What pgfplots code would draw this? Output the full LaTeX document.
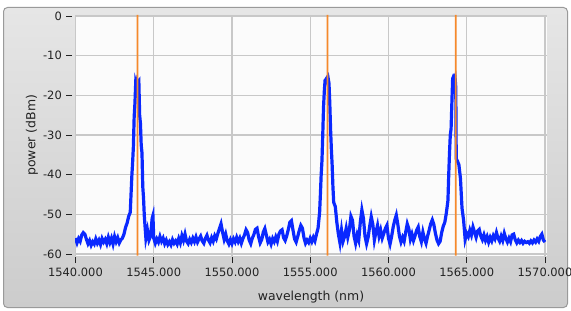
\documentclass[border=0pt]{standalone}
\usepackage{pgfplots}
\pgfplotsset{compat=1.18}
\usepackage{pgfplotstable}
\usepackage{fontspec}
\setmainfont{DejaVu Sans}
\definecolor{panelTop}{HTML}{E6E6E6}
\definecolor{panelBot}{HTML}{CCCCCC}
\definecolor{panelEdge}{HTML}{9A9A9A}
\definecolor{plotbg}{HTML}{FBFBFB}
\definecolor{gridc}{HTML}{C8C8C8}
\definecolor{specblue}{HTML}{0A28FF}
\definecolor{orangeline}{HTML}{F5892B}
\definecolor{txt}{HTML}{222222}

\pgfplotstableread{
x y
1540.0 -56.0
1540.1 -57.2
1540.2 -56.1
1540.3 -56.8
1540.4 -55.2
1540.5 -54.6
1540.6 -55.0
1540.7 -56.3
1540.8 -57.4
1540.9 -56.6
1541.0 -57.8
1541.1 -56.9
1541.2 -57.5
1541.3 -56.2
1541.4 -57.3
1541.5 -56.5
1541.6 -57.6
1541.7 -56.1
1541.8 -57.0
1541.9 -56.3
1542.0 -57.4
1542.1 -55.8
1542.2 -57.1
1542.3 -56.0
1542.4 -57.5
1542.5 -55.6
1542.6 -56.9
1542.7 -55.9
1542.8 -57.2
1542.9 -56.4
1543.0 -56.0
1543.1 -55.0
1543.2 -53.3
1543.3 -52.2
1543.4 -50.5
1543.5 -49.5
1543.55 -45.0
1543.6 -40.5
1543.65 -37.0
1543.7 -33.0
1543.75 -25.5
1543.8 -22.0
1543.85 -16.8
1543.9 -17.5
1543.95 -16.3
1544.0 -16.8
1544.05 -16.5
1544.1 -25.0
1544.15 -27.0
1544.2 -32.5
1544.25 -34.5
1544.3 -43.0
1544.35 -46.0
1544.4 -50.5
1544.5 -56.0
1544.6 -54.0
1544.7 -56.5
1544.8 -55.5
1544.9 -51.0
1544.95 -50.3
1545.0 -56.0
1545.1 -57.3
1545.2 -56.2
1545.3 -57.0
1545.4 -55.6
1545.5 -56.8
1545.6 -56.0
1545.7 -57.4
1545.8 -56.5
1545.9 -57.6
1546.0 -56.9
1546.1 -57.7
1546.2 -56.4
1546.3 -57.3
1546.4 -56.7
1546.5 -57.5
1546.6 -56.1
1546.7 -57.2
1546.8 -55.4
1546.9 -56.6
1547.0 -55.0
1547.1 -56.8
1547.2 -57.4
1547.3 -56.3
1547.4 -57.1
1547.5 -56.0
1547.6 -56.9
1547.7 -55.7
1547.8 -57.0
1547.9 -56.2
1548.0 -55.5
1548.1 -56.7
1548.2 -57.3
1548.3 -56.1
1548.4 -55.3
1548.5 -56.5
1548.6 -57.2
1548.7 -55.9
1548.8 -56.8
1548.9 -55.4
1549.0 -56.2
1549.1 -54.8
1549.2 -53.6
1549.3 -52.4
1549.4 -54.5
1549.5 -56.3
1549.6 -55.0
1549.7 -56.7
1549.8 -57.5
1549.9 -56.4
1550.0 -57.4
1550.1 -56.2
1550.2 -57.0
1550.3 -55.8
1550.4 -56.9
1550.5 -56.0
1550.6 -57.3
1550.7 -56.1
1550.8 -55.2
1550.9 -53.9
1551.0 -54.6
1551.1 -56.5
1551.2 -57.4
1551.3 -56.0
1551.4 -55.1
1551.5 -53.8
1551.6 -53.5
1551.7 -55.6
1551.8 -57.2
1551.9 -56.4
1552.0 -54.5
1552.1 -53.6
1552.2 -55.3
1552.3 -57.0
1552.4 -56.3
1552.5 -57.5
1552.6 -56.1
1552.7 -56.9
1552.8 -55.7
1552.9 -56.8
1553.0 -55.0
1553.1 -54.2
1553.2 -53.9
1553.3 -55.9
1553.4 -56.6
1553.5 -55.4
1553.6 -53.8
1553.7 -52.0
1553.8 -51.6
1553.9 -54.0
1554.0 -56.2
1554.1 -57.0
1554.2 -55.6
1554.3 -54.1
1554.4 -52.8
1554.5 -53.5
1554.6 -55.9
1554.7 -57.3
1554.8 -56.5
1554.9 -57.1
1555.0 -56.0
1555.1 -56.9
1555.2 -55.8
1555.3 -56.7
1555.4 -55.0
1555.5 -53.5
1555.6 -49.5
1555.65 -45.0
1555.7 -40.0
1555.75 -36.5
1555.8 -30.0
1555.85 -23.0
1555.9 -19.0
1555.95 -16.2
1556.0 -16.0
1556.05 -15.7
1556.1 -16.4
1556.15 -15.8
1556.2 -17.0
1556.25 -22.0
1556.3 -28.5
1556.35 -33.5
1556.4 -37.5
1556.45 -43.0
1556.5 -47.0
1556.6 -48.0
1556.7 -52.0
1556.8 -55.0
1556.9 -57.2
1557.0 -54.0
1557.1 -56.8
1557.2 -55.5
1557.3 -53.5
1557.4 -55.8
1557.5 -54.0
1557.6 -50.5
1557.7 -51.5
1557.8 -55.5
1557.9 -57.3
1558.0 -55.2
1558.1 -56.5
1558.2 -52.0
1558.3 -48.9
1558.4 -51.0
1558.5 -55.5
1558.6 -57.4
1558.7 -55.8
1558.8 -53.0
1558.9 -50.6
1559.0 -52.5
1559.1 -56.5
1559.2 -54.5
1559.3 -52.8
1559.4 -55.5
1559.5 -54.0
1559.6 -56.0
1559.7 -54.8
1559.8 -53.6
1559.9 -52.8
1560.0 -56.0
1560.1 -57.5
1560.2 -55.6
1560.3 -53.2
1560.4 -51.5
1560.5 -50.2
1560.6 -52.6
1560.7 -55.5
1560.8 -57.0
1560.9 -55.8
1561.0 -56.8
1561.1 -54.5
1561.2 -52.4
1561.3 -53.6
1561.4 -56.3
1561.5 -55.0
1561.6 -56.6
1561.7 -55.4
1561.8 -54.0
1561.9 -53.2
1562.0 -55.6
1562.1 -56.9
1562.2 -54.5
1562.3 -56.2
1562.4 -57.3
1562.5 -55.5
1562.6 -54.0
1562.7 -52.4
1562.8 -51.4
1562.9 -52.6
1563.0 -54.8
1563.1 -56.5
1563.2 -57.4
1563.3 -56.8
1563.4 -54.6
1563.5 -53.0
1563.6 -52.0
1563.7 -49.6
1563.8 -46.5
1563.85 -40.0
1563.9 -34.5
1563.95 -30.0
1564.0 -28.5
1564.05 -22.0
1564.1 -15.8
1564.15 -15.3
1564.2 -15.6
1564.25 -15.2
1564.3 -18.0
1564.33 -36.0
1564.4 -36.5
1564.5 -37.5
1564.6 -41.0
1564.7 -48.5
1564.8 -51.5
1564.9 -56.3
1565.0 -54.8
1565.1 -55.6
1565.2 -54.0
1565.3 -55.2
1565.4 -53.2
1565.5 -54.5
1565.6 -55.8
1565.7 -54.2
1565.8 -53.8
1565.9 -55.5
1566.0 -56.4
1566.1 -55.2
1566.2 -56.6
1566.3 -55.6
1566.4 -57.0
1566.5 -55.8
1566.6 -56.7
1566.7 -55.4
1566.8 -56.2
1566.9 -54.6
1567.0 -56.0
1567.1 -56.8
1567.2 -55.5
1567.3 -56.6
1567.4 -54.8
1567.5 -56.1
1567.6 -57.0
1567.7 -56.0
1567.8 -56.9
1567.9 -55.2
1568.0 -55.0
1568.1 -56.4
1568.2 -57.2
1568.3 -56.5
1568.4 -57.1
1568.5 -56.6
1568.6 -57.3
1568.7 -56.8
1568.8 -57.1
1568.9 -56.9
1569.0 -57.3
1569.1 -56.7
1569.2 -57.2
1569.3 -56.5
1569.4 -57.0
1569.5 -56.2
1569.6 -56.8
1569.7 -55.6
1569.8 -55.0
1569.9 -56.5
1570.0 -57.0
}\spectrum

\begin{document}
\begin{tikzpicture}[x=1bp,y=1bp]
\useasboundingbox (0,0) rectangle (571,310);
\shade[top color=panelTop, bottom color=panelBot, rounded corners=4bp] (3.5,2.5) rectangle (567.5,302.5);
\draw[panelEdge, line width=1bp, rounded corners=4bp] (3.5,2.5) rectangle (567.5,302.5);
\begin{axis}[
  at={(75bp,54.5bp)}, anchor=south west, scale only axis,
  width=472bp, height=240.5bp,
  xmin=1539.97, xmax=1570.13, ymin=-60.38, ymax=0.25,
  axis line style={draw=none},
  axis background/.style={fill=plotbg},
  grid=major, major grid style={gridc, line width=1.3bp},
  xtick={1540,1545,...,1570},
  xticklabels={1540.000,1545.000,1550.000,1555.000,1560.000,1565.000,1570.000},
  ytick={-60,-50,...,0},
  yticklabels={-60,-50,-40,-30,-20,-10,0},
  xtick pos=left, ytick pos=left,
  tick align=outside, major tick length=6bp,
  tick style={txt, line width=0.9bp},
  ytick style={xshift=-3bp},
  xtick style={yshift=-1.5bp},
  xticklabel style={font=\fontsize{11.5}{13}\selectfont, text=txt, anchor=north, inner sep=0pt, yshift=-6bp},
  yticklabel style={font=\fontsize{11.5}{13}\selectfont, text=txt, anchor=east, inner sep=0pt, xshift=-7bp},
  xlabel={wavelength (nm)},
  ylabel={power (dBm)},
  xlabel style={font=\fontsize{12.5}{14}\selectfont, text=txt, at={(axis description cs:0.5,-0.1726)}, anchor=center},
  ylabel style={font=\fontsize{12.5}{14}\selectfont, text=txt, at={(axis description cs:-0.0911,0.5)}, anchor=center},
  clip=true,
]
\addplot[color=specblue, line width=3.2bp, line join=miter, mark=none] table[x=x,y=y] {\spectrum};
\addplot[draw=none, fill=orangeline, mark=none] coordinates {(1543.905,-60.4) (1544.015,-60.4) (1544.015,0.3) (1543.905,0.3)} \closedcycle;
\addplot[draw=none, fill=orangeline, mark=none] coordinates {(1556.045,-60.4) (1556.155,-60.4) (1556.155,0.3) (1556.045,0.3)} \closedcycle;
\addplot[draw=none, fill=orangeline, mark=none] coordinates {(1564.245,-60.4) (1564.355,-60.4) (1564.355,0.3) (1564.245,0.3)} \closedcycle;
\end{axis}
\end{tikzpicture}
\end{document}
